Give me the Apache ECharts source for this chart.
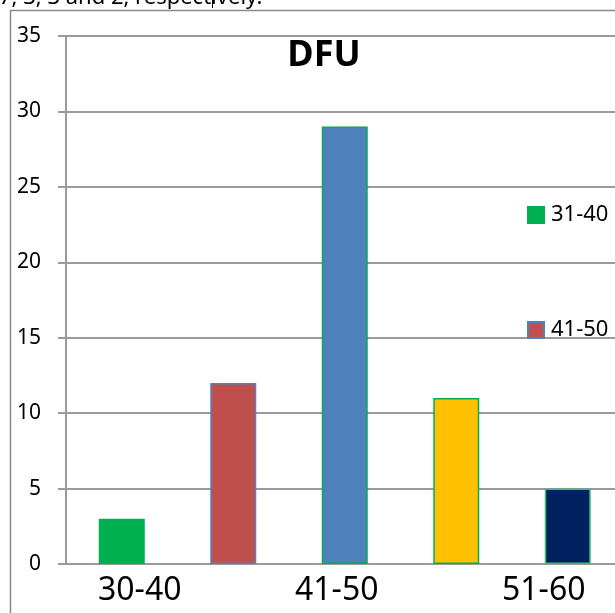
<!DOCTYPE html>
<html>
<head>
<meta charset="utf-8">
<script src="https://cdn.jsdelivr.net/npm/echarts@6/dist/echarts.min.js"></script>
<style>html,body{margin:0;padding:0;background:#fff}#c{width:615px;height:613px}</style>
</head>
<body>
<div id="c"></div>
<script>
const xLabels = ["30-40", "", "41-50", "", "51-60"];
const values = [3, 12, 29, 11, 5];
const seriesNames = ["31-40", "41-50", "51-60", "61-70", "71-80"];
const legendNames = ["31-40", "41-50"];
const yTicks = [0, 5, 10, 15, 20, 25, 30, 35];

const fills = ["#00B050", "#C0504D", "#4F81BD", "#FFC000", "#002060"];
const borders = ["#00B050", "#4F81BD", "#00B050", "#00B050", "#33C070"];
// horizontal nudge of each category label (style only)
const labelPad = [[0, 0, 0, 36], [0, 0, 0, 0], [0, 16, 0, 0], [0, 0, 0, 0], [0, 48, 0, 0]];

const chart = echarts.init(document.getElementById('c'));
const FONT = 'Noto Sans';

const series = values.map((v, i) => ({
  name: seriesNames[i],
  type: 'bar',
  stack: 'all',
  barWidth: 46,
  data: values.map((_, j) => j === i ? v : null),
  itemStyle: { color: fills[i], borderColor: borders[i], borderWidth: 1.5 },
  emphasis: { disabled: true }
}));

const rich = {};
labelPad.forEach((p, i) => { rich['l' + i] = { fontFamily: FONT, fontSize: 32, color: '#000', padding: p }; });

chart.setOption({
  animation: false,
  backgroundColor: '#fff',
  title: {
    text: 'DFU',
    left: 319,
    top: 33,
    textAlign: 'center',
    textStyle: { fontFamily: FONT, fontSize: 36, fontWeight: 'bold', color: '#000' }
  },
  legend: {
    data: legendNames,
    orient: 'vertical',
    left: 522,
    top: 199,
    itemWidth: 16,
    itemHeight: 16,
    itemGap: 93,
    icon: 'rect',
    textStyle: { fontFamily: FONT, fontSize: 22, lineHeight: 22, color: '#000', padding: [0, 0, 0, 2] },
    selectedMode: false
  },
  grid: { left: 66, width: 557.5, top: 36, height: 528, containLabel: false, outerBoundsMode: 'none' },
  xAxis: {
    type: 'category',
    data: xLabels,
    axisLine: { lineStyle: { color: '#9a9a9a', width: 2 } },
    axisTick: { show: false },
    axisLabel: {
      interval: 0, fontFamily: FONT, fontSize: 32, color: '#000', margin: 11,
      formatter: (val, idx) => val ? '{l' + idx + '|' + val + '}' : '',
      rich: rich
    }
  },
  yAxis: {
    type: 'value',
    min: yTicks[0],
    max: yTicks[yTicks.length - 1],
    interval: yTicks[1] - yTicks[0],
    axisLine: { show: true, lineStyle: { color: '#9a9a9a', width: 2 } },
    axisTick: { show: true, length: 8, lineStyle: { color: '#9a9a9a', width: 2 } },
    axisLabel: { fontFamily: FONT, fontSize: 21, color: '#000', margin: 25 },
    splitLine: { lineStyle: { color: '#9a9a9a', width: 2 } }
  },
  series: series,
  graphic: [
    { type: 'rect', silent: true, z: 100,
      shape: { x: 10.5, y: 10.5, width: 800, height: 800 },
      style: { fill: 'none', stroke: '#8a8a8a', lineWidth: 1.5 } },
    { type: 'text', silent: true, z: 100,
      style: { x: -1, y: 9, text: '7, 3, 3 and 2, respectively.', font: '22px "Noto Sans"', fill: '#000', verticalAlign: 'bottom' } },
    { type: 'line', silent: true, z: 100,
      shape: { x1: 212.5, y1: 0, x2: 212.5, y2: 8 },
      style: { stroke: '#000', lineWidth: 1 } }
  ]
});
</script>
</body>
</html>
